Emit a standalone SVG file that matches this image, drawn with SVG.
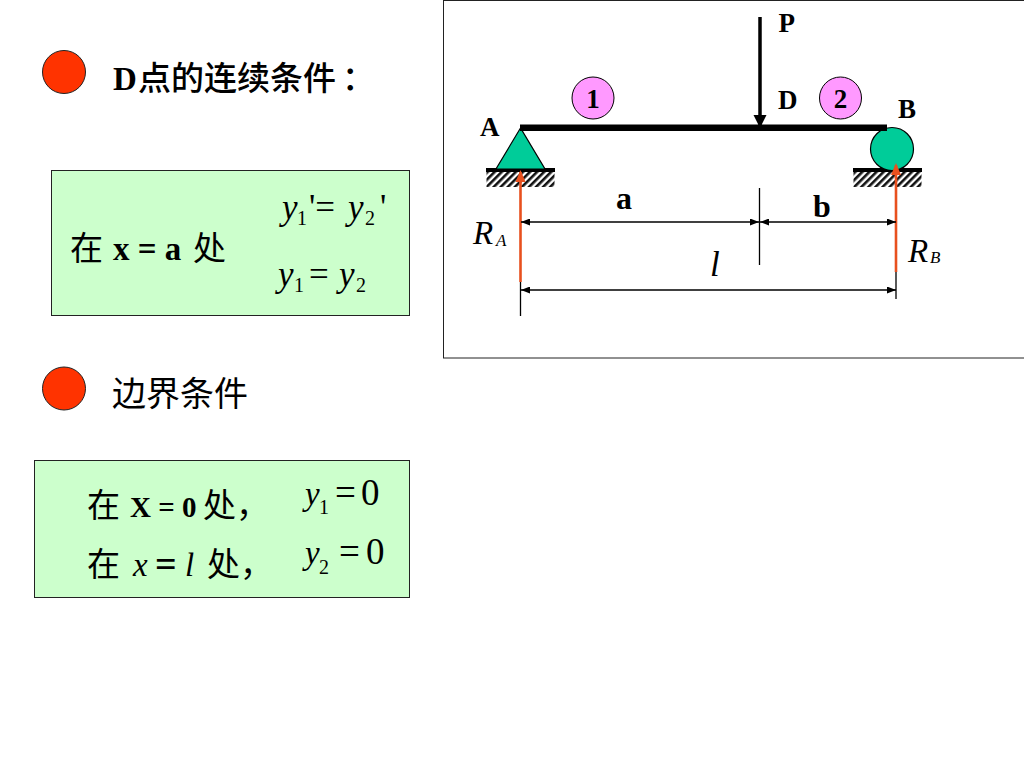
<svg xmlns="http://www.w3.org/2000/svg" width="1024" height="768" viewBox="0 0 1024 768">
<style>
.t{font-family:"Liberation Serif","Noto Sans CJK SC",serif;fill:#000}
.b{font-weight:bold}
.i{font-style:italic}
.cjk{font-family:"Noto Sans CJK SC","Liberation Serif",sans-serif;fill:#000;font-size:33px;font-weight:400}
.box{fill:#ccffcc;stroke:#222;stroke-width:1}
.dot{fill:#ff3300;stroke:#222;stroke-width:1}
.thin{stroke:#000;stroke-width:1.3;fill:none}
.red{stroke:#e8501e;stroke-width:2.6;fill:none}
.num{fill:#ff99ff;stroke:#000;stroke-width:1}
.sup{fill:#00cc99;stroke:#000;stroke-width:1.2}
</style>
<defs>
<pattern id="h" width="5" height="5" patternUnits="userSpaceOnUse" patternTransform="rotate(-45)"><rect width="5" height="5" fill="#fff"/><rect width="5" height="2.6" fill="#111"/></pattern>
<marker id="ah" markerWidth="9" markerHeight="7" refX="9" refY="3.5" orient="auto-start-reverse" markerUnits="userSpaceOnUse"><path d="M0 0L9 3.5L0 7Z" fill="#000"/></marker>
</defs>
<rect id="frame" x="443.500" y="0.500" width="581" height="357.500" fill="#fff" stroke="#222" stroke-width="1"/>
<g id="bullet1"><circle class="dot" cx="64" cy="72" r="21.500"/></g>
<g id="bullet2"><circle class="dot" cx="64" cy="388.500" r="21.500"/></g>
<g id="title1"><text class="t b" x="113" y="90" font-size="33">D</text><text class="cjk" x="138" y="90" style="font-weight:500">点的连续条件<tspan dx="6">：</tspan></text></g>
<g id="title2"><text class="cjk" x="112" y="406" style="font-size:34px">边界条件</text></g>
<g id="box1"><rect class="box" x="51.500" y="170.500" width="358" height="145"/>
<text class="cjk" x="70" y="260">在</text>
<text class="t b" x="113" y="260" font-size="33">x = a</text>
<text class="cjk" x="193" y="260">处</text>
<text class="t i" x="282" y="219" font-size="35">y</text><text class="t" x="297" y="225" font-size="20">1</text><text class="t" x="309" y="219" font-size="35">'= </text><text class="t i" x="348" y="219" font-size="35">y</text><text class="t" x="365" y="225" font-size="20">2</text><text class="t" x="380" y="219" font-size="35">'</text>
<text class="t i" x="278" y="286" font-size="35">y</text><text class="t" x="294" y="292" font-size="20">1</text><text class="t" x="309" y="286" font-size="35">=</text><text class="t i" x="339" y="286" font-size="35">y</text><text class="t" x="356" y="292" font-size="20">2</text>
</g>
<g id="box2"><rect class="box" x="34.500" y="460.500" width="375" height="137"/>
<text class="cjk" x="87" y="517">在</text>
<text class="t b" x="130" y="517" font-size="29">X = 0</text>
<text class="cjk" x="203" y="517">处，</text>
<text class="cjk" x="87" y="576">在</text>
<text class="t i" x="133" y="576" font-size="33">x</text><text class="t b" x="155" y="577" font-size="38">=</text><text class="t i" x="185" y="576" font-size="33">l</text>
<text class="cjk" x="207" y="576">处，</text>
<text class="t i" x="305" y="505" font-size="33">y</text><text class="t" x="319" y="514" font-size="20">1</text><text class="t" x="335" y="505" font-size="37">=</text><text class="t" x="361" y="505" font-size="37">0</text>
<text class="t i" x="305" y="564" font-size="33">y</text><text class="t" x="319" y="574" font-size="20">2</text><text class="t" x="339" y="564" font-size="37">=</text><text class="t" x="366" y="564" font-size="37">0</text>
</g>
<g id="ground-a"><rect x="486.500" y="171" width="68" height="16" fill="url(#h)"/><rect x="486" y="168" width="69" height="4" fill="#000"/></g>
<g id="ground-b"><rect x="853.500" y="171" width="68" height="16" fill="url(#h)"/><rect x="853" y="168" width="69" height="4" fill="#000"/></g>
<g id="support-a"><polygon class="sup" points="520.500,128 496,169 545,169"/></g>
<g id="support-b"><circle class="sup" cx="892" cy="149" r="21.500"/></g>
<g id="beam"><rect x="520" y="124.500" width="367" height="6.500" fill="#000"/></g>
<g id="connectors">
<path d="M760 17V128" stroke="#000" stroke-width="3.500" fill="none"/><path d="M753.500 115H766.500L760 128Z" fill="#000"/>
<path class="red" d="M520.500 282V172"/><path d="M515.500 182H525.500L520.500 170Z" fill="#e8501e"/>
<path class="red" d="M896 272V165"/><path d="M891 175H901L896 163Z" fill="#e8501e"/>
<path class="thin" d="M520.500 282V316M896 272V299M759.500 188V265"/>
<path class="thin" d="M521 222H759" marker-start="url(#ah)" marker-end="url(#ah)"/>
<path class="thin" d="M760 222H896" marker-start="url(#ah)" marker-end="url(#ah)"/>
<path class="thin" d="M521 290H896" marker-start="url(#ah)" marker-end="url(#ah)"/>
</g>
<g id="circle1"><circle class="num" cx="593" cy="98" r="21"/><text class="t b" x="593" y="108" font-size="27" text-anchor="middle">1</text></g>
<g id="circle2"><circle class="num" cx="840.500" cy="98" r="21"/><text class="t b" x="840.500" y="108" font-size="27" text-anchor="middle">2</text></g>
<g id="labels">
<text class="t b" x="778.500" y="32" font-size="27">P</text>
<text class="t b" x="778" y="109" font-size="27">D</text>
<text class="t b" x="898" y="118" font-size="27">B</text>
<text class="t b" x="480" y="136" font-size="27">A</text>
<text class="t b" x="616" y="209" font-size="32">a</text>
<text class="t b" x="813" y="217" font-size="32">b</text>
<text class="t i" x="473" y="244" font-size="33">R</text><text class="t i" x="496" y="246" font-size="17">A</text>
<text class="t i" x="908" y="262" font-size="33">R</text><text class="t i" x="930" y="263" font-size="17">B</text>
<text class="t i" x="710" y="276" font-size="35">l</text>
</g>
</svg>
